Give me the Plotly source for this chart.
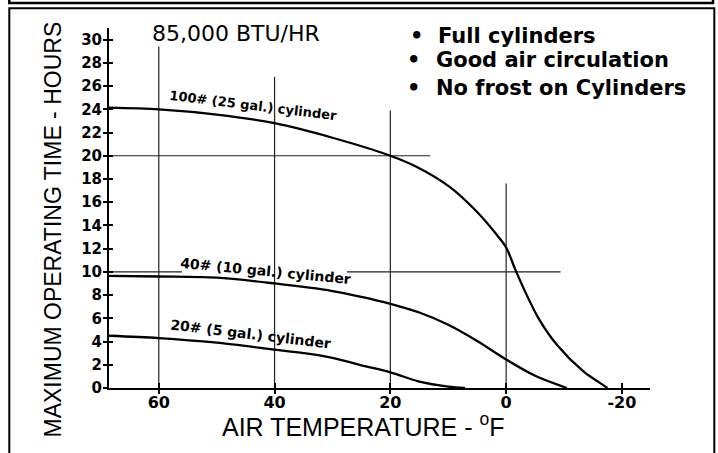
import plotly.graph_objects as go

# ---------------- data ----------------
temp_100 = [68.6, 60, 50, 40, 30, 20, 15.5, 9.7, 5.3, 1.8, 0, -1.5, -3.0, -5.6, -8.8, -13.4, -15.8, -17.5]
hours_100 = [24.15, 24.0, 23.55, 22.8, 21.55, 20.0, 19.05, 17.3, 15.3, 13.3, 12.1, 10.3, 8.6, 6.0, 3.7, 1.4, 0.57, 0.0]

temp_40 = [68.6, 60, 50, 40, 30, 25, 20, 15, 10, 5, 0, -5, -10.5]
hours_40 = [9.65, 9.6, 9.5, 9.0, 8.35, 7.85, 7.25, 6.5, 5.45, 4.05, 2.45, 1.05, 0.0]

temp_20 = [68.6, 60, 50, 40, 35, 30, 25, 20, 15, 10, 7.1]
hours_20 = [4.5, 4.3, 3.9, 3.3, 3.0, 2.6, 1.95, 1.35, 0.55, 0.12, 0.0]

x_tickvals = [60, 40, 20, 0, -20]
x_ticktext = ["60", "40", "20", "0", "-20"]
y_tickvals = list(range(0, 31, 2))
y_ticktext = [str(v) for v in y_tickvals]

# reference lines (temperature, top hours) and (hours, from temp, to temp)
vlines = [(60, 29.4), (40, 26.8), (20, 23.9), (0, 17.6)]
hlines = [(20, 68.6, 13.1), (10, 68.6, 56.0), (10, 27.5, -9.4)]

curve_labels = [
    ("100# (25 gal.) cylinder", 43.7, 24.3, 7, 13),
    ("40# (10 gal.) cylinder", 41.5, 10.1, 5.5, 14),
    ("20# (5 gal.) cylinder", 44.2, 4.67, 6.8, 14),
]

title_text = "85,000 BTU/HR"
bullets = ["Full cylinders", "Good air circulation", "No frost on Cylinders"]
x_title = "AIR TEMPERATURE - <sup>o</sup>F"
y_title = "MAXIMUM OPERATING TIME - HOURS"

X_RANGE = [68.6, -24.85]
Y_RANGE = [0, 31]

# ---------------- layout geometry ----------------
W, H = 718, 453
ML, MR, MT, MB = 109, 68, 28, 65
PW, PH = W - ML - MR, H - MT - MB


def px(x):
    return (x - ML) / PW


def py(y):
    return 1 - (y - MT) / PH


fig = go.Figure()

for xs, ys in [(temp_100, hours_100), (temp_40, hours_40), (temp_20, hours_20)]:
    fig.add_trace(go.Scatter(x=xs, y=ys, mode="lines",
                             line=dict(color="black", width=2.3, shape="spline", smoothing=0.9),
                             showlegend=False, hoverinfo="skip"))

# dummy trace for the overlay axes (inside tick marks)
fig.add_trace(go.Scatter(x=[], y=[], xaxis="x2", yaxis="y2", showlegend=False))

shapes = []
for xv, top in vlines:
    shapes.append(dict(type="line", xref="x", yref="y", x0=xv, x1=xv, y0=0, y1=top,
                       line=dict(color="#222", width=1.2), layer="below"))
for yv, x0, x1 in hlines:
    shapes.append(dict(type="line", xref="x", yref="y", x0=x0, x1=x1, y0=yv, y1=yv,
                       line=dict(color="#222", width=1.2), layer="below"))

# frames
shapes.append(dict(type="rect", xref="paper", yref="paper",
                   x0=px(9.3), x1=px(713), y0=py(-10), y1=py(3.0),
                   line=dict(color="black", width=2.5), fillcolor="rgba(0,0,0,0)"))
shapes.append(dict(type="rect", xref="paper", yref="paper",
                   x0=px(9.3), x1=px(714.3), y0=py(8.3), y1=py(470),
                   line=dict(color="black", width=2), fillcolor="rgba(0,0,0,0)"))

annotations = []
for text, xv, yv, ang, size in curve_labels:
    annotations.append(dict(text=text, x=xv, y=yv, xref="x", yref="y", showarrow=False,
                            textangle=ang,
                            font=dict(family="DejaVu Sans", size=size, color="black", weight="bold")))

annotations.append(dict(text=title_text, x=px(236), y=py(33.5), xref="paper", yref="paper",
                        showarrow=False, xanchor="center", yanchor="middle",
                        font=dict(family="DejaVu Sans", size=22, color="black")))

bullet_y = [36, 60, 88]
bullet_x = [416, 413, 413]
text_x = [436, 434, 434]
for t, by, bx, tx in zip(bullets, bullet_y, bullet_x, text_x):
    annotations.append(dict(text="•", x=px(bx), y=py(by), xref="paper", yref="paper",
                            showarrow=False, xanchor="center", yanchor="middle",
                            font=dict(family="DejaVu Sans", size=21, color="black", weight="bold")))
    annotations.append(dict(text=t, x=px(tx), y=py(by), xref="paper", yref="paper",
                            showarrow=False, xanchor="left", yanchor="middle",
                            font=dict(family="DejaVu Sans", size=21, color="black", weight="bold")))

annotations.append(dict(text=x_title, x=px(363), y=py(425), xref="paper", yref="paper",
                        showarrow=False, xanchor="center", yanchor="middle",
                        font=dict(family="Liberation Sans, Arial", size=25, color="black")))
annotations.append(dict(text=y_title, x=px(52.5), y=py(230), xref="paper", yref="paper",
                        showarrow=False, xanchor="center", yanchor="middle", textangle=-90,
                        font=dict(family="Liberation Sans, Arial", size=23, color="black")))

axis_common = dict(showgrid=False, zeroline=False)

fig.update_layout(
    width=W, height=H,
    margin=dict(l=ML, r=MR, t=MT, b=MB),
    paper_bgcolor="white", plot_bgcolor="white",
    showlegend=False,
    xaxis=dict(range=X_RANGE, tickmode="array", tickvals=x_tickvals, ticktext=x_ticktext,
               ticks="outside", ticklen=4, tickwidth=2, tickcolor="black",
               ticklabelstandoff=-5,
               showline=True, linecolor="black", linewidth=2,
               tickfont=dict(family="DejaVu Sans", size=16, color="black", weight="bold"),
               **axis_common),
    yaxis=dict(range=Y_RANGE, tickmode="array", tickvals=y_tickvals, ticktext=y_ticktext,
               ticks="outside", ticklen=4, tickwidth=2, tickcolor="black",
               ticklabelstandoff=-2,
               showline=True, linecolor="black", linewidth=2,
               tickfont=dict(family="DejaVu Sans", size=15, color="black", weight="bold"),
               **axis_common),
    xaxis2=dict(range=X_RANGE, overlaying="x", anchor="y2", side="bottom",
                tickmode="array", tickvals=x_tickvals, showticklabels=False,
                ticks="inside", ticklen=5, tickwidth=2, tickcolor="black",
                showline=False, **axis_common),
    yaxis2=dict(range=Y_RANGE, overlaying="y", anchor="x2", side="left",
                tickmode="array", tickvals=y_tickvals, showticklabels=False,
                ticks="inside", ticklen=4, tickwidth=2, tickcolor="black",
                showline=False, **axis_common),
    shapes=shapes,
    annotations=annotations,
)

fig.write_html("out.html", config={"displayModeBar": False},
               post_script="document.body.style.margin='0px';document.body.style.overflow='hidden';")
